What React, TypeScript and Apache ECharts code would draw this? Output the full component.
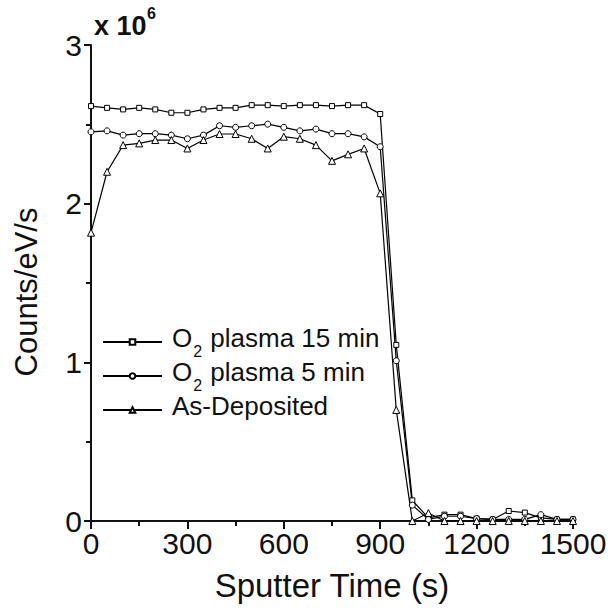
import React, { useEffect, useRef } from "react";
import * as echarts from "echarts";

// Sputter time (s)
const times = [0, 50, 100, 150, 200, 250, 300, 350, 400, 450, 500, 550, 600, 650, 700, 750, 800, 850, 900, 950, 1000, 1050, 1100, 1150, 1200, 1250, 1300, 1350, 1400, 1450, 1500];
// Counts/eV/s in units of 10^6
const o2Plasma15 = [2.615, 2.604, 2.594, 2.604, 2.594, 2.573, 2.573, 2.594, 2.604, 2.604, 2.621, 2.621, 2.615, 2.621, 2.621, 2.615, 2.621, 2.621, 2.565, 1.11, 0.13, 0.02, 0.04, 0.04, 0.015, 0.01, 0.063, 0.053, 0.02, 0.01, 0.01];
const o2Plasma5 = [2.453, 2.459, 2.432, 2.441, 2.441, 2.432, 2.409, 2.432, 2.491, 2.481, 2.491, 2.501, 2.481, 2.459, 2.47, 2.441, 2.441, 2.421, 2.359, 1.01, 0.1, 0.01, 0.03, 0.03, 0.015, 0.01, 0.01, 0.01, 0.04, 0.01, 0.01];
const asDeposited = [1.817, 2.201, 2.369, 2.38, 2.401, 2.401, 2.348, 2.401, 2.439, 2.439, 2.409, 2.348, 2.422, 2.409, 2.369, 2.27, 2.311, 2.348, 2.065, 0.7, 0.0, 0.05, 0.0, 0.0, 0.0, 0.0, 0.0, 0.0, 0.0, 0.0, 0.0];

const seriesNames = ["O2 plasma 15 min", "O2 plasma 5 min", "As-Deposited"];
const legendLabels: Record<string, string> = {
  "O2 plasma 15 min": "{a|O}{sub|2}{a| plasma 15 min}",
  "O2 plasma 5 min": "{a|O}{sub|2}{a| plasma 5 min}",
  "As-Deposited": "{a|As-Deposited}",
};
const xTicks = { min: 0, max: 1500, interval: 300 };
const yTicks = { min: 0, max: 3, interval: 1 };
const xTitle = "Sputter Time (s)";
const yTitle = "Counts/eV/s";

const FONT = "'Liberation Sans', Arial, sans-serif";

export default function App() {
  const ref = useRef<HTMLDivElement>(null);
  useEffect(() => {
    if (!ref.current) return;
    const chart = echarts.init(ref.current, undefined, { renderer: "svg" });
    const pair = (ys: number[]) => times.map((t, i) => [t, ys[i]]);
    const mk = (name: string, ys: number[], symbol: string, size: number) => ({
      name,
      type: "line",
      data: pair(ys),
      symbol,
      symbolSize: size,
      showAllSymbol: true,
      lineStyle: { color: "#000", width: 1.2 },
      itemStyle: { color: "#fff", borderColor: "#000", borderWidth: 1 },
      emphasis: { disabled: true },
    });
    const rich = {
      a: { fontSize: 26, fontFamily: FONT, color: "#111", lineHeight: 34, verticalAlign: "top" },
      sub: { fontSize: 16, fontFamily: FONT, color: "#111", lineHeight: 16, verticalAlign: "bottom", padding: [0, 1, 0, 1] },
    };
    const legendTops = [325, 359, 393];
    const legends = seriesNames.map((n, i) => ({
      data: [n],
      left: 102,
      top: legendTops[i],
      padding: 0,
      orient: "vertical",
      itemWidth: 59,
      itemHeight: 7,
      selectedMode: false,
      formatter: (name: string) => legendLabels[name],
      textStyle: { rich, padding: [0, 0, 0, 5] },
    }));
    chart.setOption({
      animation: false,
      backgroundColor: "#fff",
      textStyle: { fontFamily: FONT },
      grid: { left: 91, right: 37, top: 45, bottom: 92 },
      legend: legends,
      xAxis: {
        type: "value",
        min: xTicks.min,
        max: xTicks.max,
        interval: xTicks.interval,
        name: xTitle,
        nameLocation: "middle",
        nameGap: 48,
        nameTextStyle: { fontSize: 33, color: "#111", fontFamily: FONT },
        axisLine: { onZero: false, lineStyle: { color: "#111", width: 2 } },
        axisTick: { show: true, inside: false, length: 8, lineStyle: { color: "#111", width: 2 } },
        minorTick: { show: true, splitNumber: 2, length: 5, lineStyle: { color: "#111", width: 2 } },
        axisLabel: { fontSize: 30, color: "#111", margin: 7, fontFamily: FONT, formatter: (v: number) => String(v) },
        splitLine: { show: false },
      },
      yAxis: {
        type: "value",
        min: yTicks.min,
        max: yTicks.max,
        interval: yTicks.interval,
        axisLine: { show: true, onZero: false, lineStyle: { color: "#111", width: 2 } },
        axisTick: { show: true, inside: false, length: 7, lineStyle: { color: "#111", width: 2 } },
        minorTick: { show: true, splitNumber: 2, length: 5, lineStyle: { color: "#111", width: 2 } },
        axisLabel: { fontSize: 30, color: "#111", margin: 9, fontFamily: FONT, formatter: (v: number) => String(v) },
        splitLine: { show: false },
      },
      graphic: [
        { type: "text", x: 26, y: 292, rotation: Math.PI / 2, style: { text: yTitle, fontSize: 31, fill: "#111", fontFamily: FONT, align: "center", verticalAlign: "middle" } },
        { type: "text", left: 94, top: 12, style: { text: "x 10", fontSize: 27, fontWeight: "bold", fill: "#111", fontFamily: FONT } },
        { type: "text", left: 147, top: 5, style: { text: "6", fontSize: 16, fontWeight: "bold", fill: "#111", fontFamily: FONT } },
      ],
      series: [
        mk(seriesNames[0], o2Plasma15, "rect", 5),
        mk(seriesNames[1], o2Plasma5, "circle", 6),
        mk(seriesNames[2], asDeposited, "triangle", 7),
      ],
    });
    return () => chart.dispose();
  }, []);
  return <div ref={ref} style={{ position: "absolute", left: 0, top: 0, width: 610, height: 613 }} />;
}
